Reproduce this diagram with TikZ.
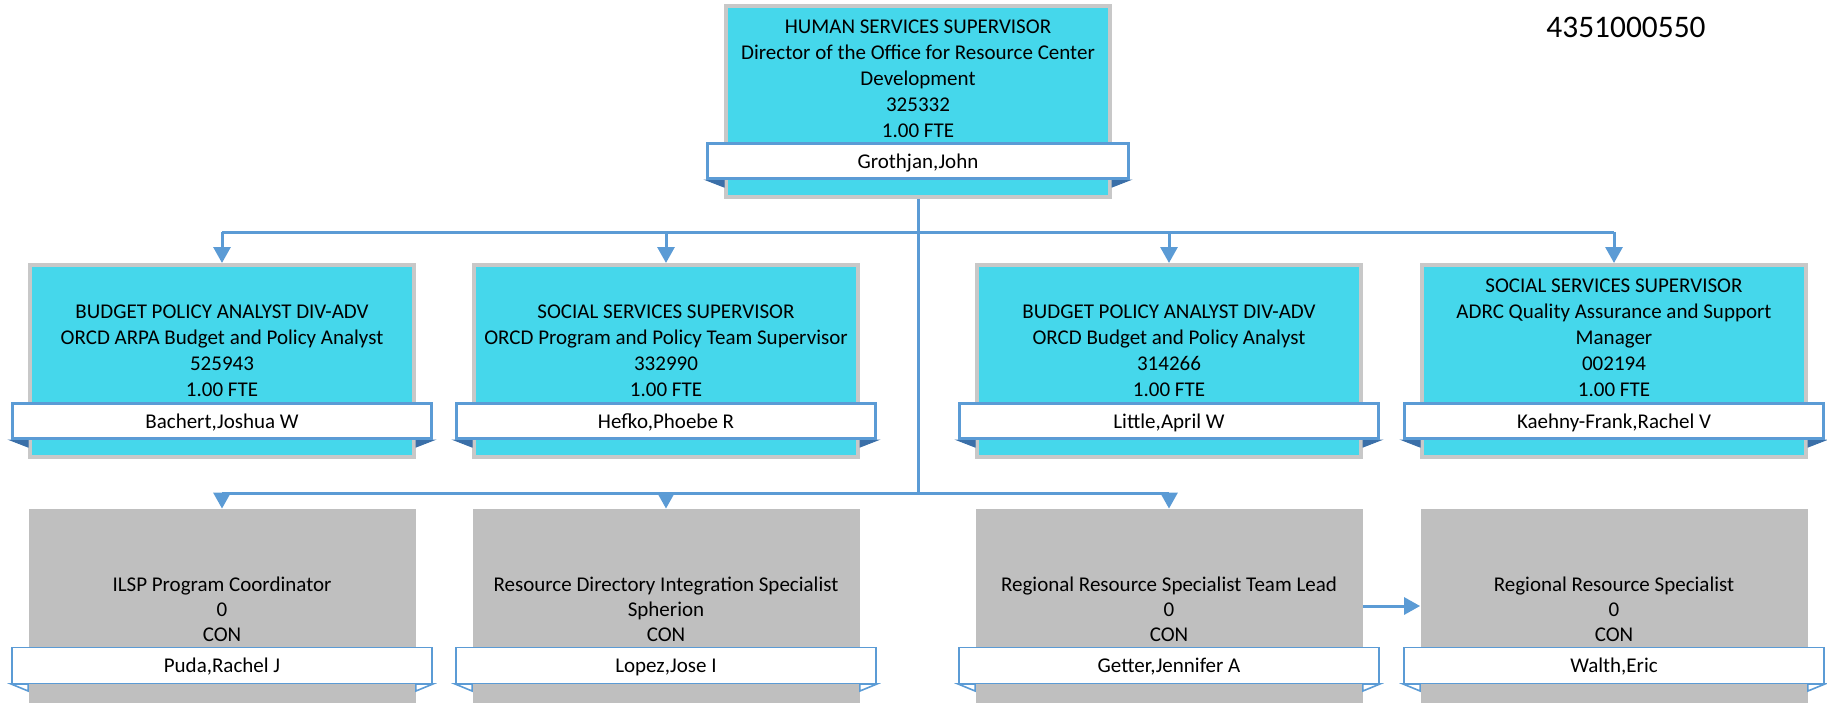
\documentclass[tikz,border=0pt]{standalone}
\usepackage{fontspec}
\setmainfont{Carlito}
\usetikzlibrary{arrows.meta}
\definecolor{cyanbox}{HTML}{45D7EB}
\definecolor{boxgray}{HTML}{C8C8C8}
\definecolor{vacant}{HTML}{BFBFBF}
\definecolor{linkblue}{HTML}{5B9BD5}
\definecolor{folddark}{HTML}{3A6FA8}
\begin{document}
\begin{tikzpicture}[x=0.5pt,y=-0.5pt,
 posbox/.style={draw=boxgray, line width=2pt, fill=cyanbox, minimum width=192pt, minimum height=96pt, inner sep=0pt},
 vacbox/.style={fill=vacant, draw=none, minimum width=193.5pt, minimum height=97pt, inner sep=0pt},
 banner/.style={draw=linkblue, line width=1.5pt, fill=white, minimum width=209.5pt, minimum height=17.5pt, inner sep=0pt, text height=8.5pt, text depth=1.5pt, font=\fontsize{10.5}{13}\selectfont},
 thinbanner/.style={banner, line width=0.8pt, minimum width=210.2pt, minimum height=18pt},
 postext/.style={anchor=south, inner sep=0pt, align=center, font=\fontsize{10.5}{13}\selectfont},
 vactext/.style={postext, font=\fontsize{10.5}{12.5}\selectfont},
 link/.style={draw=linkblue, line width=1.5pt},
 arr/.style={link, -{Triangle[width=8.5pt,length=8pt]}},
 fold/.style={fill=folddark, draw=folddark, line width=0.5pt},
 thinfold/.style={fill=white, draw=linkblue, line width=0.8pt}
]
\useasboundingbox (0,0) rectangle (1827,703);

% boxes
\node[posbox, minimum height=95.5pt] (top) at (918,101.5) {};
\node[posbox] (b1) at (222,361) {};
\node[posbox] (b2) at (666,361) {};
\node[posbox] (b3) at (1169,361) {};
\node[posbox] (b4) at (1614,361) {};
\node[vacbox] (c1) at (222,606) {};
\node[vacbox] (c2) at (666,606) {};
\node[vacbox] (c3) at (1169,606) {};
\node[vacbox] (c4) at (1614,606) {};

% connectors
\coordinate (j2) at (918,232);
\coordinate (j3) at (918,493);
\draw[link] (top.south) -- (j3);
\draw[link] (b1.north |- j2) -- (b4.north |- j2);
\draw[link] (c1.north |- j3) -- (c3.north |- j3);
\foreach \n in {b1,b2,b3,b4}{\draw[arr] (\n.north |- j2) -- (\n.north);}
\foreach \n in {c1,c2,c3}{\draw[arr] (\n.north |- j3) -- (\n.north);}
\draw[arr] (c3.east) -- (c4.west);

% title texts
\node[postext] (toptxt) at (918,138) {HUMAN SERVICES SUPERVISOR\\Director of the Office for Resource Center\\Development\\325332\\1.00 FTE};
\node[postext] (t1) at (222,397) {BUDGET POLICY ANALYST DIV-ADV\\ORCD ARPA Budget and Policy Analyst\\525943\\1.00 FTE};
\node[postext] (t2) at (666,397) {SOCIAL SERVICES SUPERVISOR\\ORCD Program and Policy Team Supervisor\\332990\\1.00 FTE};
\node[postext] (t3) at (1169,397) {BUDGET POLICY ANALYST DIV-ADV\\ORCD Budget and Policy Analyst\\314266\\1.00 FTE};
\node[postext] (t4) at (1614,397) {SOCIAL SERVICES SUPERVISOR\\ADRC Quality Assurance and Support\\Manager\\002194\\1.00 FTE};
\node[vactext] (u1) at (222,642) {ILSP Program Coordinator\\0\\CON};
\node[vactext] (u2) at (666,642) {Resource Directory Integration Specialist\\Spherion\\CON};
\node[vactext] (u3) at (1169,642) {Regional Resource Specialist Team Lead\\0\\CON};
\node[vactext] (u4) at (1614,642) {Regional Resource Specialist\\0\\CON};

% banner placeholders for fold geometry
\path (918,161) coordinate (topn);
% folds (drawn before banners)
\foreach \b/\y in {top/180,b1/440,b2/440,b3/440,b4/440}{
  \draw[fold] (\b.west |- 0,\y) ++(-18,0) -- (\b.west |- 0,\y) -- ++(0,7) -- cycle;
  \draw[fold] (\b.east |- 0,\y) ++(18,0) -- (\b.east |- 0,\y) -- ++(0,7) -- cycle;
}
\foreach \b in {c1,c2,c3,c4}{
  \draw[thinfold] (\b.west |- 0,684) ++(-17,0) -- (\b.west |- 0,684) -- ++(0,7) -- cycle;
  \draw[thinfold] (\b.east |- 0,684) ++(17,0) -- (\b.east |- 0,684) -- ++(0,7) -- cycle;
}

% name banners
\node[banner, minimum width=210.5pt] (n0) at (918,161) {Grothjan,John};
\node[banner] (n1) at (222,421) {Bachert,Joshua W};
\node[banner] (n2) at (666,421) {Hefko,Phoebe R};
\node[banner] (n3) at (1169,421) {Little,April W};
\node[banner] (n4) at (1614,421) {Kaehny-Frank,Rachel V};
\node[thinbanner] (m1) at (222,665.5) {Puda,Rachel J};
\node[thinbanner] (m2) at (666,665.5) {Lopez,Jose I};
\node[thinbanner] (m3) at (1169,665.5) {Getter,Jennifer A};
\node[thinbanner] (m4) at (1614,665.5) {Walth,Eric};

% position code
\node[anchor=base, inner sep=0pt, font=\fontsize{15.7}{18}\selectfont] (code) at (1626,37) {4351000550};
\end{tikzpicture}
\end{document}
